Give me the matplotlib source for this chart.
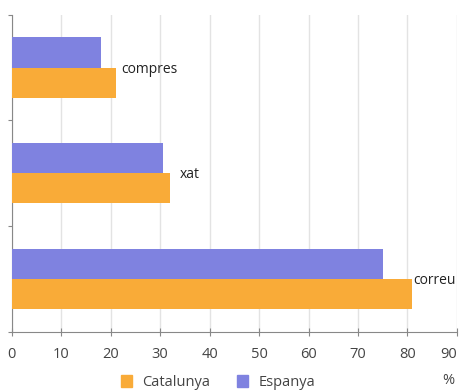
import matplotlib
matplotlib.use("Agg")
import matplotlib.pyplot as plt
from matplotlib.patches import Patch

categories = ["correu", "xat", "compres"]
catalunya = [81, 32, 21]
espanya = [75, 30.5, 18]
xticks = [0, 10, 20, 30, 40, 50, 60, 70, 80, 90]

plt.rcParams['font.family'] = ['Open Sans', 'DejaVu Sans']

fig = plt.figure(figsize=(4.59, 3.92), dpi=100)
ax = fig.add_axes([0.0255, 0.154, 0.970, 0.808])

orange = "#f9ab38"
blue = "#7f82e0"
h = 0.286
ypos = list(range(len(categories)))
ax.barh([y + h / 2 for y in ypos], espanya, height=h, color=blue, zorder=3)
ax.barh([y - h / 2 for y in ypos], catalunya, height=h, color=orange, zorder=3)

offsets = [0.7, 7, 4.3]
for y, c, v, o in zip(ypos, categories, catalunya, offsets):
    ax.annotate(c, xy=(v, y), xytext=(o, -1), textcoords="offset points",
                ha="left", va="center", fontsize=10, color="#222222")

ax.set_xlim(0, 90)
ax.set_ylim(-0.5, 2.5)
ax.set_xticks(xticks)
ax.set_xticklabels([str(t) for t in xticks], fontsize=10.5, color="#444444")
ax.get_xticklabels()[-1].set_horizontalalignment("right")
ax.set_yticks([-0.5, 0.5, 1.5, 2.5])
ax.set_yticklabels([])
ax.tick_params(axis="x", direction="inout", length=6, color="#888888", pad=8)
ax.tick_params(axis="y", direction="out", length=3, color="#888888")
ax.grid(axis="x", color="#e3e3e3", linewidth=1, zorder=0)
for s in ["top", "right"]:
    ax.spines[s].set_visible(False)
for s in ["left", "bottom"]:
    ax.spines[s].set_color("#888888")

handles = [Patch(color=orange, label="Catalunya"), Patch(color=blue, label="Espanya")]
fig.legend(handles=handles, loc="center", bbox_to_anchor=(0.475, 0.024), ncol=2,
           frameon=False, fontsize=10.5, handlelength=0.8, handleheight=0.8,
           columnspacing=1.8, handletextpad=0.7, labelcolor="#444444",
           borderpad=0.1)
fig.text(0.976, 0.03, "%", fontsize=10.5, color="#444444", ha="center", va="center")

fig.savefig("out.png", dpi=100)
